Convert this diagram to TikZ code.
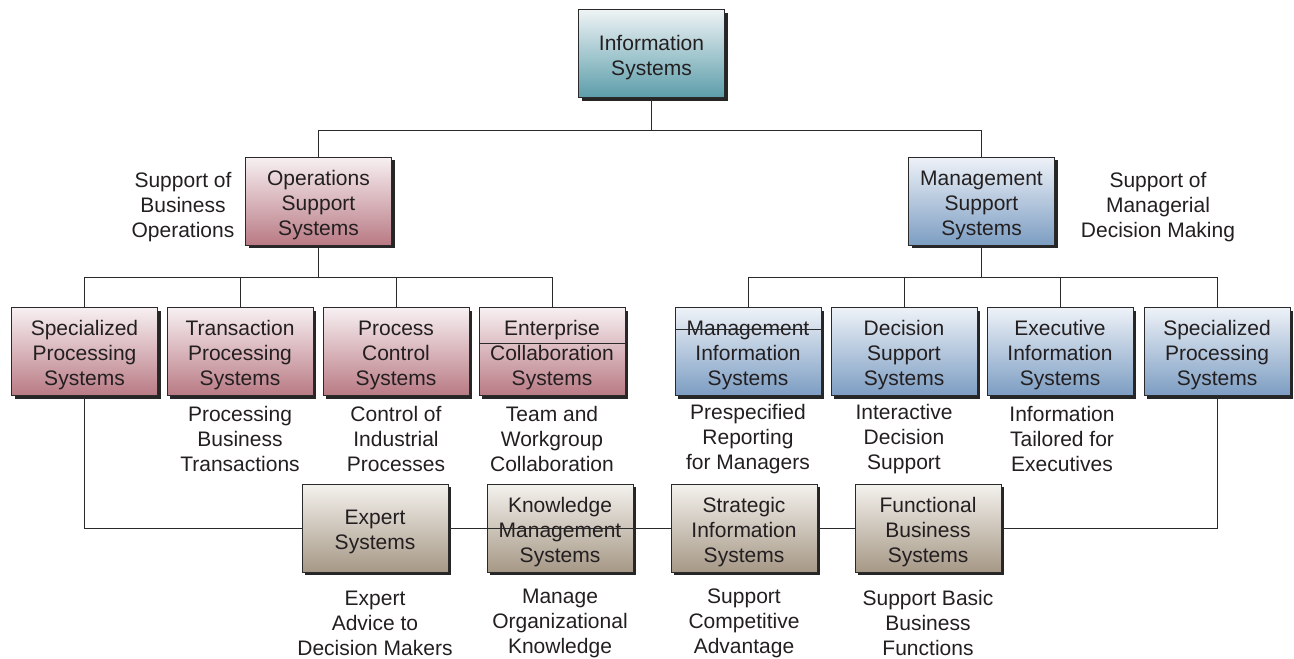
\documentclass[tikz,border=0pt]{standalone}
\usepackage{fontspec}
\setmainfont{Liberation Sans}
\usetikzlibrary{shadows}
\definecolor{txt}{HTML}{231F20}
\definecolor{edge}{HTML}{2A2A2A}
\definecolor{tealT}{HTML}{EEF4F5}\definecolor{tealB}{HTML}{5C9CAA}
\definecolor{redT}{HTML}{F7F0F2}\definecolor{redB}{HTML}{B97A84}
\definecolor{bluT}{HTML}{EEF2F8}\definecolor{bluB}{HTML}{7C9DC2}
\definecolor{tanT}{HTML}{F4F2EE}\definecolor{tanB}{HTML}{A69886}
\newcommand\topgap{\rule{0pt}{23pt}}
\tikzset{
  sysbox/.style={draw=edge, line width=0.9pt, minimum width=146pt, minimum height=88pt,
    inner sep=0pt, align=center, text=txt, font=\fontsize{21}{25}\selectfont,
    drop shadow={shadow xshift=3pt, shadow yshift=-3pt, fill=black!85, opacity=1}},
  tealbox/.style={sysbox, top color=tealT, bottom color=tealB},
  redbox/.style={sysbox, top color=redT, bottom color=redB},
  blubox/.style={sysbox, top color=bluT, bottom color=bluB},
  tanbox/.style={sysbox, top color=tanT, bottom color=tanB},
  lbl/.style={align=center, text=txt, font=\fontsize{21}{25}\selectfont, inner sep=0pt},
  conn/.style={draw=edge, line width=0.9pt},
}
\begin{document}
\begin{tikzpicture}[x=1pt,y=1pt]
\useasboundingbox (0,0) rectangle (1294,-659);
\coordinate (h1) at (0,-130);
\coordinate (h2) at (0,-277);
\node[tealbox] (top) at (651.5,-53.5) {\topgap Information\\Systems};
\node[redbox] (oss) at (318.5,-201) {\topgap Operations\\Support\\Systems};
\node[blubox] (mss) at (981.5,-201) {\topgap Management\\Support\\Systems};
\node[redbox] (spl) at (84.5,-351.5) {\topgap Specialized\\Processing\\Systems};
\node[redbox] (tps) at (240,-351.5) {\topgap Transaction\\Processing\\Systems};
\node[redbox] (pcs) at (396,-351.5) {\topgap Process\\Control\\Systems};
\node[redbox] (ecs) at (552,-351.5) {\topgap Enterprise\\Collaboration\\Systems};
\node[blubox] (mis) at (748,-351.5) {\topgap Management\\Information\\Systems};
\node[blubox] (dss) at (904,-351.5) {\topgap Decision\\Support\\Systems};
\node[blubox] (eis) at (1060,-351.5) {\topgap Executive\\Information\\Systems};
\node[blubox] (spr) at (1217,-351.5) {\topgap Specialized\\Processing\\Systems};
\node[tanbox] (exp) at (375,-528) {\topgap Expert\\Systems};
\node[tanbox] (kms) at (560,-528) {\topgap Knowledge\\Management\\Systems};
\node[tanbox] (sis) at (744,-528) {\topgap Strategic\\Information\\Systems};
\node[tanbox] (fbs) at (928,-528) {\topgap Functional\\Business\\Systems};
% labels
\node[lbl] (l1) at (183,-207) {Support of\\Business\\Operations};
\node[lbl] (l2) at (1158,-207) {Support of\\Managerial\\Decision Making};
\node[lbl] (l3) at (240,-439) {Processing\\Business\\Transactions};
\node[lbl] (l4) at (396,-439) {Control of\\Industrial\\Processes};
\node[lbl] (l5) at (552,-439) {Team and\\Workgroup\\Collaboration};
\node[lbl] (l6) at (748,-439) {Prespecified\\Reporting\\for Managers};
\node[lbl] (l7) at (904,-439) {Interactive\\Decision\\Support};
\node[lbl] (l8) at (1062,-439) {Information\\Tailored for\\Executives};
\node[lbl] (l9) at (375,-623) {Expert\\Advice to\\Decision Makers};
\node[lbl] (l10) at (560,-623) {Manage\\Organizational\\Knowledge};
\node[lbl] (l11) at (744,-623) {Support\\Competitive\\Advantage};
\node[lbl] (l12) at (928,-623) {Support Basic\\Business\\Functions};
% connectors
\draw[conn] (top.south) -- (top.south |- h1) -| (oss.north);
\draw[conn] (top.south |- h1) -| (mss.north);
\foreach \c in {spl,tps,pcs,ecs} {
  \draw[conn] (oss.south) -- (oss.south |- h2) -| (\c.north);
}
\foreach \c in {mis,dss,eis,spr} {
  \draw[conn] (mss.south) -- (mss.south |- h2) -| (\c.north);
}
\draw[conn] (spl.south) |- (exp.west);
\draw[conn] (exp.east) -- (kms.west);
\draw[conn] (kms.east) -- (sis.west);
\draw[conn] (sis.east) -- (fbs.west);
\draw[conn] (spr.south) |- (fbs.east);
% lines crossing boxes, as printed
\draw[conn] (kms.west) -- (kms.east);
\draw[conn] ([yshift=-36pt]ecs.north west) -- ([yshift=-36pt]ecs.north east);
\draw[conn] ([yshift=-22pt]mis.north west) -- ([yshift=-22pt,xshift=3pt]mis.north east);
\end{tikzpicture}
\end{document}
